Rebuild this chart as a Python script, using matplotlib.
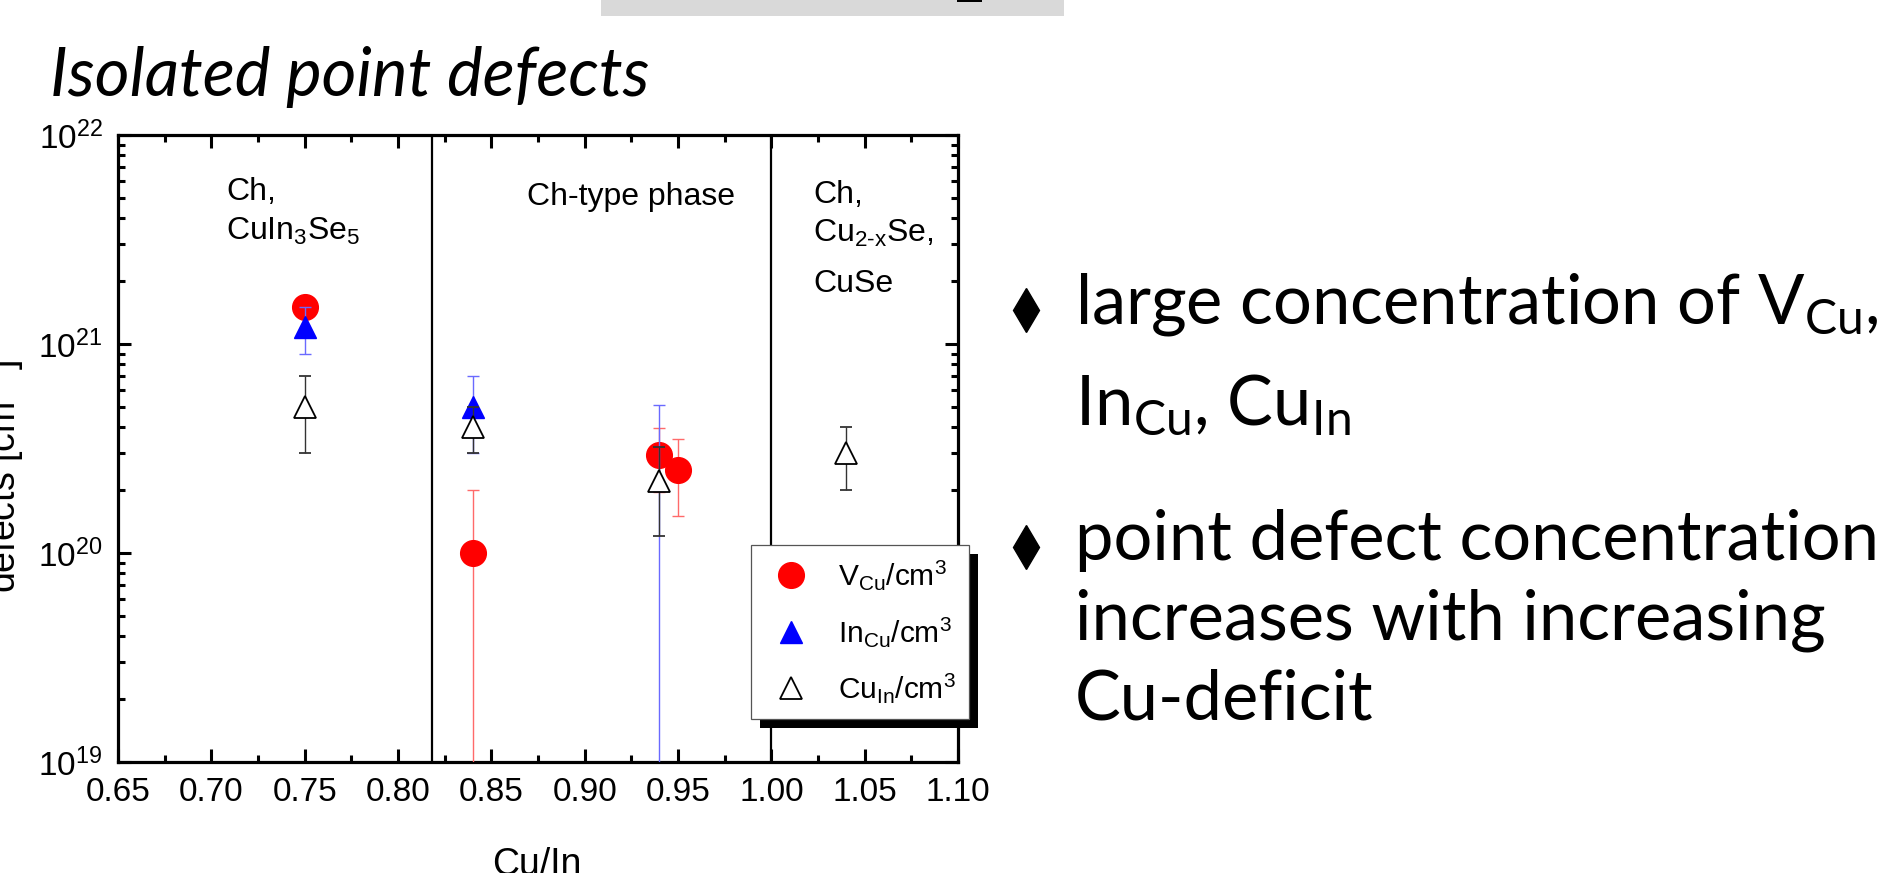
import math
import matplotlib
matplotlib.use("Agg")
import matplotlib.pyplot as plt
from matplotlib.lines import Line2D
from matplotlib.patches import Rectangle
from matplotlib.ticker import LogLocator, MultipleLocator, FuncFormatter, NullFormatter
from matplotlib.transforms import IdentityTransform

# ---------------- data ----------------
x_major_ticks = [0.65, 0.70, 0.75, 0.80, 0.85, 0.90, 0.95, 1.00, 1.05, 1.10]
x_tick_labels = ["0.65", "0.70", "0.75", "0.80", "0.85", "0.90", "0.95", "1.00", "1.05", "1.10"]
y_decades = [19, 20, 21, 22]

vcu_x = [0.75, 0.84, 0.94, 0.95]
vcu_y = [1.5e21, 1.0e20, 2.95e20, 2.5e20]
vcu_err = [0.1e21, 1.0e20, 1.0e20, 1.0e20]

incu_x = [0.75, 0.84, 0.94]
incu_y = [1.2e21, 5.0e20, 5.0e18]
incu_err = [3.0e20, 2.0e20, 5.05e20]

cuin_x = [0.75, 0.84, 0.94, 1.04]
cuin_y = [5.0e20, 4.0e20, 2.2e20, 3.0e20]
cuin_err = [2.0e20, 1.0e20, 1.0e20, 1.0e20]

phase_boundaries = [0.818, 1.00]
series_labels = [r"V$_{\mathdefault{Cu}}$/cm$^{\mathdefault{3}}$",
                 r"In$_{\mathdefault{Cu}}$/cm$^{\mathdefault{3}}$",
                 r"Cu$_{\mathdefault{In}}$/cm$^{\mathdefault{3}}$"]

title_text = "Isolated point defects"
bullet_lines = [r"large concentration of V$_{\mathdefault{Cu}}$,",
                r"In$_{\mathdefault{Cu}}$, Cu$_{\mathdefault{In}}$",
                "point defect concentration",
                "increases with increasing",
                "Cu-deficit"]

# ---------------- layout ----------------
W, H = 1884, 873
plt.rcParams['font.family'] = ['Liberation Sans', 'DejaVu Sans']
plt.rcParams['mathtext.fontset'] = 'custom'
plt.rcParams['mathtext.rm'] = 'Liberation Sans'
plt.rcParams['mathtext.it'] = 'Liberation Sans:italic'
plt.rcParams['mathtext.bf'] = 'Liberation Sans:bold'


def fx(px):
    return px / W


def fy(py):
    return 1 - py / H


fig = plt.figure(figsize=(W / 100, H / 100), dpi=100)
fig.patch.set_facecolor('white')

ax = fig.add_axes([fx(118), fy(762), fx(958) - fx(118), fy(135) - fy(762)])
ax.set_yscale('log', nonpositive='clip')
ax.set_xlim(0.65, 1.10)
ax.set_ylim(1e19, 1e22)

for xb in phase_boundaries:
    ax.axvline(xb, color='black', lw=1.6, zorder=2)

ax.errorbar(vcu_x, vcu_y, yerr=vcu_err, fmt='o', ms=18.5, mfc='#ff0000', mec='#ff0000',
            ecolor='#ff6a6a', elinewidth=1.0, capsize=4.5, capthick=1.0, zorder=3)
ax.errorbar(incu_x, incu_y, yerr=incu_err, fmt='^', ms=16.5, mfc='#0000ff', mec='#0000ff',
            ecolor='#6a6aff', elinewidth=1.0, capsize=4.5, capthick=1.0, zorder=4)
ax.errorbar(cuin_x, cuin_y, yerr=cuin_err, fmt='^', ms=16.5, mfc='white', mec='black', mew=1.3,
            ecolor='#333333', elinewidth=1.0, capsize=4.5, capthick=1.0, zorder=5)

# ticks
ax.xaxis.set_major_locator(MultipleLocator(0.05))
ax.xaxis.set_minor_locator(MultipleLocator(0.025))
ax.set_xticks(x_major_ticks)
ax.set_xticklabels(x_tick_labels)
ax.set_yticks([10.0 ** d for d in y_decades])
ax.yaxis.set_major_formatter(FuncFormatter(lambda v, p: r"$\mathdefault{10^{%d}}$" % round(math.log10(v))))
ax.yaxis.set_minor_locator(LogLocator(base=10, subs=range(2, 10), numticks=20))
ax.yaxis.set_minor_formatter(NullFormatter())
ax.tick_params(which='both', direction='in', top=True, right=True, width=2.2, color='black')
ax.tick_params(which='major', length=9.5)
ax.tick_params(which='minor', length=5)
ax.tick_params(axis='x', which='major', labelsize=24, pad=11)
ax.tick_params(axis='y', which='major', labelsize=24, pad=11)
for s in ax.spines.values():
    s.set_linewidth(2.3)

# region labels
fs_in = 23
fig.text(fx(226), fy(200), "Ch,", fontsize=fs_in, va='baseline')
fig.text(fx(226), fy(240), r"CuIn$_{\mathdefault{3}}$Se$_{\mathdefault{5}}$", fontsize=fs_in, va='baseline')
fig.text(fx(527), fy(205), "Ch-type phase", fontsize=fs_in, va='baseline')
fig.text(fx(813), fy(203), "Ch,", fontsize=fs_in, va='baseline')
fig.text(fx(813), fy(242), r"Cu$_{\mathdefault{2\text{-}x}}$Se,", fontsize=fs_in, va='baseline')
fig.text(fx(813), fy(292), "CuSe", fontsize=fs_in, va='baseline')

# legend
h1 = Line2D([], [], ls='none', marker='o', ms=18.5, mfc='#ff0000', mec='#ff0000')
h2 = Line2D([], [], ls='none', marker='^', ms=16.5, mfc='#0000ff', mec='#0000ff')
h3 = Line2D([], [], ls='none', marker='^', ms=16.5, mfc='white', mec='black', mew=1.3)
leg = ax.legend([h1, h2, h3], series_labels, loc='upper left',
                bbox_to_anchor=(fx(751), fy(545)), bbox_transform=fig.transFigure,
                borderaxespad=0, borderpad=0.45, handlelength=1.8, handletextpad=0.65,
                labelspacing=0.75, fontsize=21.5, frameon=True, fancybox=False,
                edgecolor='#555555', framealpha=1)
leg.get_frame().set_linewidth(0.9)
leg.set_zorder(10)

# axis labels
fig.text(fx(26), fy(477), r"defects [cm$^{\mathdefault{-3}}$]", rotation=90, ha='right', va='center', fontsize=27)
fig.text(fx(537), fy(875), "Cu/In", ha='center', va='baseline', fontsize=27)

# title and slide elements
fig.add_artist(Rectangle((fx(601), fy(16)), (1064 - 601) / W, 16 / H, transform=fig.transFigure,
                         facecolor='#d9d9d9', edgecolor='none'))
fig.add_artist(Rectangle((fx(957), fy(2)), 25 / W, 2 / H, transform=fig.transFigure,
                         facecolor='black', edgecolor='none'))
title = fig.text(fx(50), fy(96), title_text, family=['Lato', 'DejaVu Sans'], style='italic',
                 fontsize=44, va='baseline')

bl_y = [323, 425, 560, 640, 720]
bullets = []
for s, yb in zip(bullet_lines, bl_y):
    bullets.append(fig.text(fx(1075), fy(yb), s, family=['Lato', 'DejaVu Sans'], fontsize=42, va='baseline'))
for yb in (bl_y[0], bl_y[2]):
    fig.add_artist(Line2D([fx(1026)], [fy(yb - 13)], marker='d', ms=22.5, color='black',
                          transform=fig.transFigure))

# fit font sizes to measured widths
fig.canvas.draw()
r = fig.canvas.get_renderer()
w = title.get_window_extent(r).width
title.set_fontsize(44 * 599 / w)
w = bullets[2].get_window_extent(r).width
fsb = 42 * 805 / w
for b in bullets:
    b.set_fontsize(fsb)

fig.canvas.draw()
bb = leg.get_window_extent(r)
shadow = Rectangle((bb.x0 + 9, bb.y0 - 9), bb.width, bb.height, transform=IdentityTransform(),
                   facecolor='black', edgecolor='none', zorder=9, clip_on=False)
ax.add_artist(shadow)

fig.savefig("out.png", dpi=100, facecolor='white')
